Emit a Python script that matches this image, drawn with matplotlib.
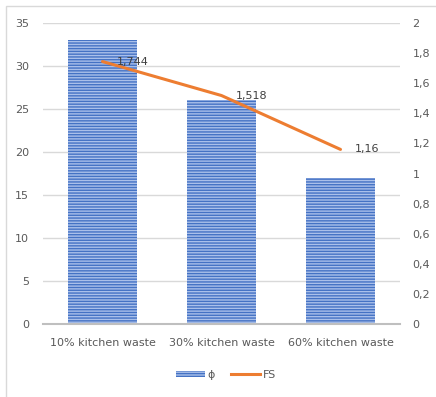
import numpy as np
import matplotlib.pyplot as plt
from matplotlib.patches import Rectangle
from matplotlib.lines import Line2D

categories = ['10% kitchen waste', '30% kitchen waste', '60% kitchen waste']
phi = [33, 26, 17]
fs = [1.744, 1.518, 1.16]
fs_labels = ['1,744', '1,518', '1,16']
right_ticks = [0, 0.2, 0.4, 0.6, 0.8, 1, 1.2, 1.4, 1.6, 1.8, 2]
right_tick_labels = ['0', '0,2', '0,4', '0,6', '0,8', '1', '1,2', '1,4', '1,6', '1,8', '2']

plt.rcParams['font.family'] = ['DejaVu Sans']
plt.rcParams['hatch.linewidth'] = 1.0
text_color = '#595959'
blue = '#4472C4'
orange = '#ED7D31'

W, H = 436, 397
fig = plt.figure(figsize=(W / 100, H / 100), dpi=100)

# outer chart border
fig.patches.append(Rectangle((6 / W, -0.01), 1.0, 1 - 6 / H + 0.01, transform=fig.transFigure,
                             fill=False, edgecolor='#d9d9d9', linewidth=1))

ax = fig.add_axes([43 / W, 1 - 324 / H, (400 - 43) / W, (324 - 23) / H])
x = np.arange(len(categories))
ax.bar(x, phi, width=0.58, color='#aac0ea', edgecolor=blue, hatch='-' * 6,
       linewidth=0, zorder=2)
ax.set_xlim(-0.5, 2.5)
ax.set_ylim(0, 35)
ax.set_yticks(range(0, 36, 5))
ax.set_xticks(x)
ax.set_xticklabels(categories)
ax.grid(axis='y', color='#d9d9d9', linewidth=1, zorder=0)
ax.set_axisbelow(True)
for s in ['top', 'right', 'left']:
    ax.spines[s].set_visible(False)
ax.spines['bottom'].set_color('#bfbfbf')
ax.spines['bottom'].set_linewidth(1.5)
ax.tick_params(length=0, colors=text_color, labelsize=8)
ax.tick_params(axis='x', pad=10)
ax.tick_params(axis='y', pad=10)

ax2 = ax.twinx()
ax2.plot(x, fs, color=orange, linewidth=2.2, solid_capstyle='round', zorder=3)
ax2.set_ylim(0, 2)
ax2.set_yticks(right_ticks)
ax2.set_yticklabels(right_tick_labels)
for s in ax2.spines.values():
    s.set_visible(False)
ax2.tick_params(length=0, colors=text_color, labelsize=8, pad=9)

# value labels sit just to the right of each FS point
for xi, v, lab in zip(x, fs, fs_labels):
    ax2.annotate(lab, (xi, v), xytext=(10, 0), textcoords='offset points',
                 fontsize=8, color='#404040', ha='left', va='center', zorder=4)

handles = [Rectangle((0, 0), 1, 1, facecolor='#aac0ea', edgecolor=blue, hatch='-' * 6, linewidth=0),
           Line2D([0], [0], color=orange, linewidth=2.2)]
fig.legend(handles, ['ϕ', 'FS'], loc='center', bbox_to_anchor=(226 / W, 1 - 375 / H),
           ncol=2, frameon=False, fontsize=8, labelcolor=text_color,
           handlelength=2.6, handleheight=0.5, handletextpad=0.2, columnspacing=1.5)

fig.savefig('out.png', dpi=100)
